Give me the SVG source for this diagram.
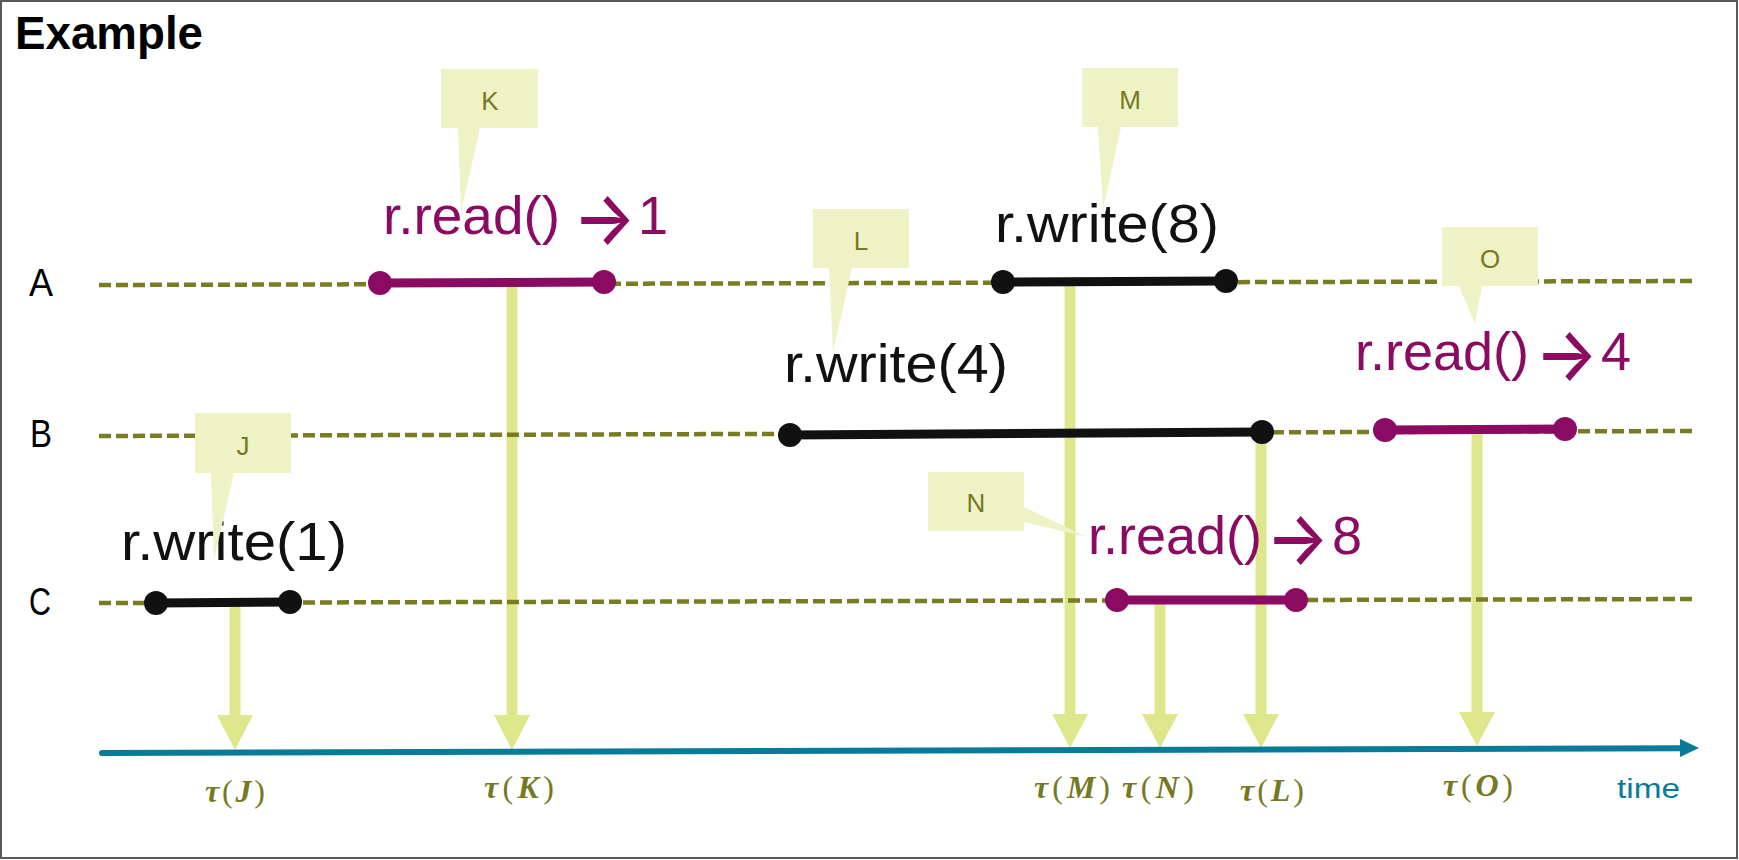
<svg xmlns="http://www.w3.org/2000/svg" width="1739" height="860" viewBox="0 0 1739 860">
<style>
.lane{stroke:#7a7c22;stroke-width:4.5;stroke-dasharray:12 5;fill:none}
.barP{stroke:#8b0b62;stroke-width:9;fill:none}
.barK{stroke:#111;stroke-width:9;fill:none}
.dotP{fill:#8b0b62}
.dotK{fill:#111}
.op{font-family:"Liberation Sans",Arial,sans-serif;font-size:54px}
.opP{fill:#8b0b62}
.opK{fill:#111}
.arr{font-family:Inter,"DejaVu Sans",sans-serif;font-size:74px;font-weight:500}
.call{fill:#eef2c5}
.callT{font-family:"Liberation Sans",Arial,sans-serif;font-size:26px;fill:#76791f;text-anchor:middle}
.lbl{font-family:"Liberation Sans",Arial,sans-serif;font-size:39px;fill:#000}
.shaft{stroke:#dfe78c;stroke-width:11;fill:none}
.head{fill:#dfe78c}
.tau{font-family:"Liberation Serif","Times New Roman",serif;font-size:32px;fill:#76791f}
.bi{font-weight:bold;font-style:italic}
</style>
<rect x="1" y="1" width="1736" height="857" fill="#fff" stroke="#595959" stroke-width="2"/>
<text x="15" y="49" font-family="Liberation Sans,Arial,sans-serif" font-weight="bold" font-size="46" textLength="188" lengthAdjust="spacingAndGlyphs">Example</text>

<g id="connectors">
  <line class="shaft" x1="235" y1="603" x2="235" y2="716"/>
  <polygon class="head" points="217,715 253,715 235,750"/>
  <line class="shaft" x1="512" y1="283" x2="512" y2="716"/>
  <polygon class="head" points="494,715 530,715 512,750"/>
  <line class="shaft" x1="1070" y1="282" x2="1070" y2="715"/>
  <polygon class="head" points="1052,714 1088,714 1070,748"/>
  <line class="shaft" x1="1160" y1="600" x2="1160" y2="715"/>
  <polygon class="head" points="1142,714 1178,714 1160,748"/>
  <line class="shaft" x1="1261" y1="433" x2="1261" y2="715"/>
  <polygon class="head" points="1243,714 1279,714 1261,748"/>
  <line class="shaft" x1="1477" y1="430" x2="1477" y2="713"/>
  <polygon class="head" points="1459,712 1495,712 1477,746"/>
  <line x1="102" y1="753" x2="1684" y2="748.3" stroke="#087b98" stroke-width="6" stroke-linecap="round"/>
  <polygon points="1680,739 1699,748 1680,757" fill="#087b98"/>
</g>

<g id="lanes">
  <line class="lane" x1="99" y1="285" x2="1697" y2="281"/>
  <line class="lane" x1="99" y1="436" x2="1697" y2="431"/>
  <line class="lane" x1="99" y1="603" x2="1697" y2="599"/>
</g>

<g id="lane-A"><text class="lbl" x="29" y="296" textLength="24" lengthAdjust="spacingAndGlyphs">A</text></g>
<g id="lane-B"><text class="lbl" x="30" y="447" textLength="22" lengthAdjust="spacingAndGlyphs">B</text></g>
<g id="lane-C"><text class="lbl" x="29" y="615" textLength="22" lengthAdjust="spacingAndGlyphs">C</text></g>

<g id="op-K">
  <line class="barP" x1="380" y1="283" x2="604" y2="282"/>
  <circle class="dotP" cx="380" cy="283" r="12"/>
  <circle class="dotP" cx="604" cy="282" r="12"/>
  <text class="op opP" y="234"><tspan x="383" textLength="177" lengthAdjust="spacingAndGlyphs">r.read()</tspan><tspan class="arr" x="573" y="244" textLength="63" lengthAdjust="spacingAndGlyphs">→</tspan><tspan x="638" y="234">1</tspan></text>
</g>

<g id="op-M">
  <line class="barK" x1="1003" y1="282" x2="1226" y2="281"/>
  <circle class="dotK" cx="1003" cy="282" r="12"/>
  <circle class="dotK" cx="1226" cy="281" r="12"/>
  <text class="op opK" x="995" y="242" textLength="224" lengthAdjust="spacingAndGlyphs">r.write(8)</text>
</g>

<g id="op-L">
  <line class="barK" x1="790" y1="435" x2="1262" y2="432"/>
  <circle class="dotK" cx="790" cy="435" r="12"/>
  <circle class="dotK" cx="1262" cy="432" r="12"/>
  <text class="op opK" x="784" y="382" textLength="224" lengthAdjust="spacingAndGlyphs">r.write(4)</text>
</g>

<g id="op-O">
  <line class="barP" x1="1385" y1="430" x2="1565" y2="429"/>
  <circle class="dotP" cx="1385" cy="430" r="12"/>
  <circle class="dotP" cx="1565" cy="429" r="12"/>
  <text class="op opP" y="370"><tspan x="1355" textLength="174" lengthAdjust="spacingAndGlyphs">r.read()</tspan><tspan class="arr" x="1535" y="380" textLength="63" lengthAdjust="spacingAndGlyphs">→</tspan><tspan x="1601" y="370">4</tspan></text>
</g>

<g id="op-J">
  <line class="barK" x1="156" y1="603" x2="290" y2="602"/>
  <circle class="dotK" cx="156" cy="603" r="12"/>
  <circle class="dotK" cx="290" cy="602" r="12"/>
  <text class="op opK" x="121" y="560" textLength="226" lengthAdjust="spacingAndGlyphs">r.write(1)</text>
</g>

<g id="op-N">
  <line class="barP" x1="1117" y1="600" x2="1296" y2="600"/>
  <circle class="dotP" cx="1117" cy="600" r="12"/>
  <circle class="dotP" cx="1296" cy="600" r="12"/>
  <text class="op opP" y="554"><tspan x="1088" textLength="174" lengthAdjust="spacingAndGlyphs">r.read()</tspan><tspan class="arr" x="1266" y="564" textLength="63" lengthAdjust="spacingAndGlyphs">→</tspan><tspan x="1332" y="554">8</tspan></text>
</g>

<g id="callout-K">
  <path class="call" d="M441,69 H538 V128 H480 L461,212 L458,128 H441 Z"/>
  <text class="callT" x="490" y="110">K</text>
</g>
<g id="callout-M">
  <path class="call" d="M1082,68 H1178 V127 H1121 L1103,210 L1098,127 H1082 Z"/>
  <text class="callT" x="1130" y="109">M</text>
</g>
<g id="callout-L">
  <path class="call" d="M813,209 H909 V268 H852 L833,352 L829,268 H813 Z"/>
  <text class="callT" x="861" y="250">L</text>
</g>
<g id="callout-O">
  <path class="call" d="M1442,227 H1538 V286 H1482 L1475,324 L1459,286 H1442 Z"/>
  <text class="callT" x="1490" y="268">O</text>
</g>
<g id="callout-J">
  <path class="call" d="M195,413 H291 V473 H234 L214,560 L211,473 H195 Z"/>
  <text class="callT" x="243" y="455">J</text>
</g>
<g id="callout-N">
  <path class="call" d="M928,472 H1024 V507 L1087,537 L1024,522 V531 H928 Z"/>
  <text class="callT" x="976" y="512">N</text>
</g>

<g id="time-labels">
  <text class="tau" x="205" y="802" textLength="60"><tspan class="bi">τ</tspan>(<tspan class="bi">J</tspan>)</text>
  <text class="tau" x="484" y="798" textLength="70"><tspan class="bi">τ</tspan>(<tspan class="bi">K</tspan>)</text>
  <text class="tau" x="1034" y="798" textLength="76"><tspan class="bi">τ</tspan>(<tspan class="bi">M</tspan>)</text>
  <text class="tau" x="1122" y="798" textLength="72"><tspan class="bi">τ</tspan>(<tspan class="bi">N</tspan>)</text>
  <text class="tau" x="1240" y="801" textLength="64"><tspan class="bi">τ</tspan>(<tspan class="bi">L</tspan>)</text>
  <text class="tau" x="1443" y="796" textLength="70"><tspan class="bi">τ</tspan>(<tspan class="bi">O</tspan>)</text>
  <text x="1617" y="798" font-family="Liberation Sans,Arial,sans-serif" font-size="27" fill="#087b98" textLength="63" lengthAdjust="spacingAndGlyphs">time</text>
</g>
</svg>
